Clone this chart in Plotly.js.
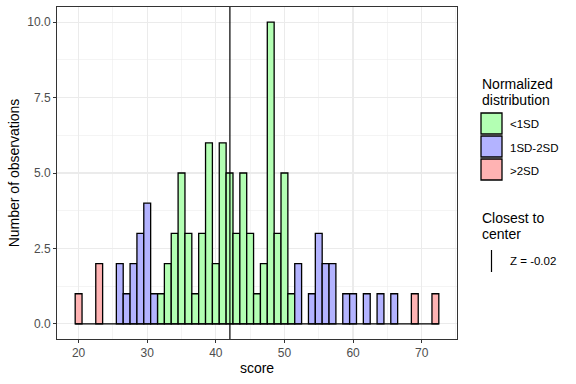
<!DOCTYPE html>
<html>
<head>
<meta charset="utf-8">
<script src="https://cdn.plot.ly/plotly-3.0.1.min.js"></script>
<style>html,body{margin:0;padding:0;background:#fff;}#chart{width:576px;height:384px;}</style>
</head>
<body>
<div id="chart"></div>
<script>
const scores = [20,21,22,23,24,25,26,27,28,29,30,31,32,33,34,35,36,37,38,39,40,41,42,43,44,45,46,47,48,49,50,51,52,53,54,55,56,57,58,59,60,61,62,63,64,65,66,67,68,69,70,71,72];
const counts = [1,0,0,2,0,0,2,1,2,3,4,1,1,2,3,5,3,1,3,6,2,6,5,3,5,3,1,2,10,3,5,1,2,0,1,3,2,2,0,1,1,0,1,0,1,0,1,0,0,1,0,0,1];
const groups = ['>2SD','>2SD','>2SD','>2SD','>2SD','1SD-2SD','1SD-2SD','1SD-2SD','1SD-2SD','1SD-2SD','1SD-2SD','1SD-2SD',
  '<1SD','<1SD','<1SD','<1SD','<1SD','<1SD','<1SD','<1SD','<1SD','<1SD','<1SD','<1SD','<1SD','<1SD','<1SD','<1SD','<1SD','<1SD','<1SD','<1SD',
  '1SD-2SD','1SD-2SD','1SD-2SD','1SD-2SD','1SD-2SD','1SD-2SD','1SD-2SD','1SD-2SD','1SD-2SD','1SD-2SD','1SD-2SD','1SD-2SD','1SD-2SD','1SD-2SD','1SD-2SD',
  '>2SD','>2SD','>2SD','>2SD','>2SD','>2SD'];
const groupNames = ['<1SD','1SD-2SD','>2SD'];
const groupColors = ['#b3ffb3','#b3b3ff','#ffb3b3'];
const centerScore = 42.05;
const centerLabel = 'Z = -0.02';
const xTicks = [20,30,40,50,60,70];
const yTicks = [0,2.5,5,7.5,10];

const traces = groupNames.map((g, gi) => {
  const xs = [], ys = [];
  scores.forEach((s, i) => { if (groups[i] === g && counts[i] > 0) { xs.push(s); ys.push(counts[i]); } });
  return {type:'bar', x:xs, y:ys, width:1, name:g, showlegend:false,
    marker:{color:groupColors[gi], line:{color:'#000000', width:1.3}}, hoverinfo:'x+y'};
});
// zero-count bins drawn as a baseline, like ggplot's empty bins
traces.unshift({type:'scatter', mode:'lines', x:[scores[0]-0.5, scores[scores.length-1]+0.5], y:[0,0],
  line:{color:'#000000', width:1.3}, showlegend:false, hoverinfo:'skip'});

// layout geometry (px) for the manual legend
const L = 57, R = 457, T = 7, B = 339;
const px = v => (v - L) / (R - L);
const py = v => (B - v) / (B - T);
const shapes = [
  {type:'line', xref:'x', yref:'paper', x0:centerScore, x1:centerScore, y0:0, y1:1, line:{color:'#000000', width:1.2}}
];
const annotations = [];
const font = 'Liberation Sans, Arial, sans-serif';
annotations.push({xref:'paper', yref:'paper', x:px(480), y:py(84), xanchor:'left', yanchor:'middle', text:'Normalized', showarrow:false, font:{family:font, size:14, color:'#000'}});
annotations.push({xref:'paper', yref:'paper', x:px(480), y:py(99.5), xanchor:'left', yanchor:'middle', text:'distribution', showarrow:false, font:{family:font, size:14, color:'#000'}});
groupNames.forEach((g, i) => {
  const top = 113 + i * 23;
  shapes.push({type:'rect', xref:'paper', yref:'paper', x0:px(481), x1:px(502), y0:py(top), y1:py(top+21),
    fillcolor:groupColors[i], line:{color:'#000000', width:1.3}});
  annotations.push({xref:'paper', yref:'paper', x:px(508), y:py(top+11.5), xanchor:'left', yanchor:'middle', text:g, showarrow:false, font:{family:font, size:11.5, color:'#000'}});
});
annotations.push({xref:'paper', yref:'paper', x:px(480), y:py(218), xanchor:'left', yanchor:'middle', text:'Closest to', showarrow:false, font:{family:font, size:14, color:'#000'}});
annotations.push({xref:'paper', yref:'paper', x:px(480), y:py(233.5), xanchor:'left', yanchor:'middle', text:'center', showarrow:false, font:{family:font, size:14, color:'#000'}});
shapes.push({type:'line', xref:'paper', yref:'paper', x0:px(491.5), x1:px(491.5), y0:py(250), y1:py(272), line:{color:'#000000', width:1.2}});
annotations.push({xref:'paper', yref:'paper', x:px(508), y:py(261), xanchor:'left', yanchor:'middle', text:centerLabel, showarrow:false, font:{family:font, size:11.5, color:'#000'}});

const axisCommon = {
  showline:true, mirror:true, linecolor:'#333333', linewidth:1,
  ticks:'outside', ticklen:3, tickcolor:'#333333', tickwidth:1,
  tickfont:{family:font, size:12, color:'#4d4d4d'},
  showgrid:true, gridcolor:'#ebebeb', gridwidth:1.1, zeroline:false
};
const layout = {
  width:576, height:384,
  margin:{l:L, r:576-R, t:T, b:384-B, pad:0},
  paper_bgcolor:'#ffffff', plot_bgcolor:'#ffffff',
  barmode:'overlay', bargap:0,
  showlegend:false,
  font:{family:font},
  xaxis:Object.assign({}, axisCommon, {
    range:[16.85, 75.15], tickmode:'array', tickvals:xTicks, ticktext:xTicks.map(String),
    minor:{tickmode:'array', tickvals:[25,35,45,55,65,75], showgrid:true, gridcolor:'#ebebeb', gridwidth:0.55, ticks:''},
    title:{text:'score', font:{family:font, size:14, color:'#000'}, standoff:3}
  }),
  yaxis:Object.assign({}, axisCommon, {
    range:[-0.5, 10.5], tickmode:'array', tickvals:yTicks, ticktext:yTicks.map(v => v.toFixed(1)),
    minor:{tickmode:'array', tickvals:[1.25,3.75,6.25,8.75], showgrid:true, gridcolor:'#ebebeb', gridwidth:0.55, ticks:''},
    title:{text:'Number of observations', font:{family:font, size:14, color:'#000'}, standoff:4}
  }),
  shapes:shapes, annotations:annotations
};
Plotly.newPlot('chart', traces, layout, {staticPlot:true, displayModeBar:false});
</script>
</body>
</html>
